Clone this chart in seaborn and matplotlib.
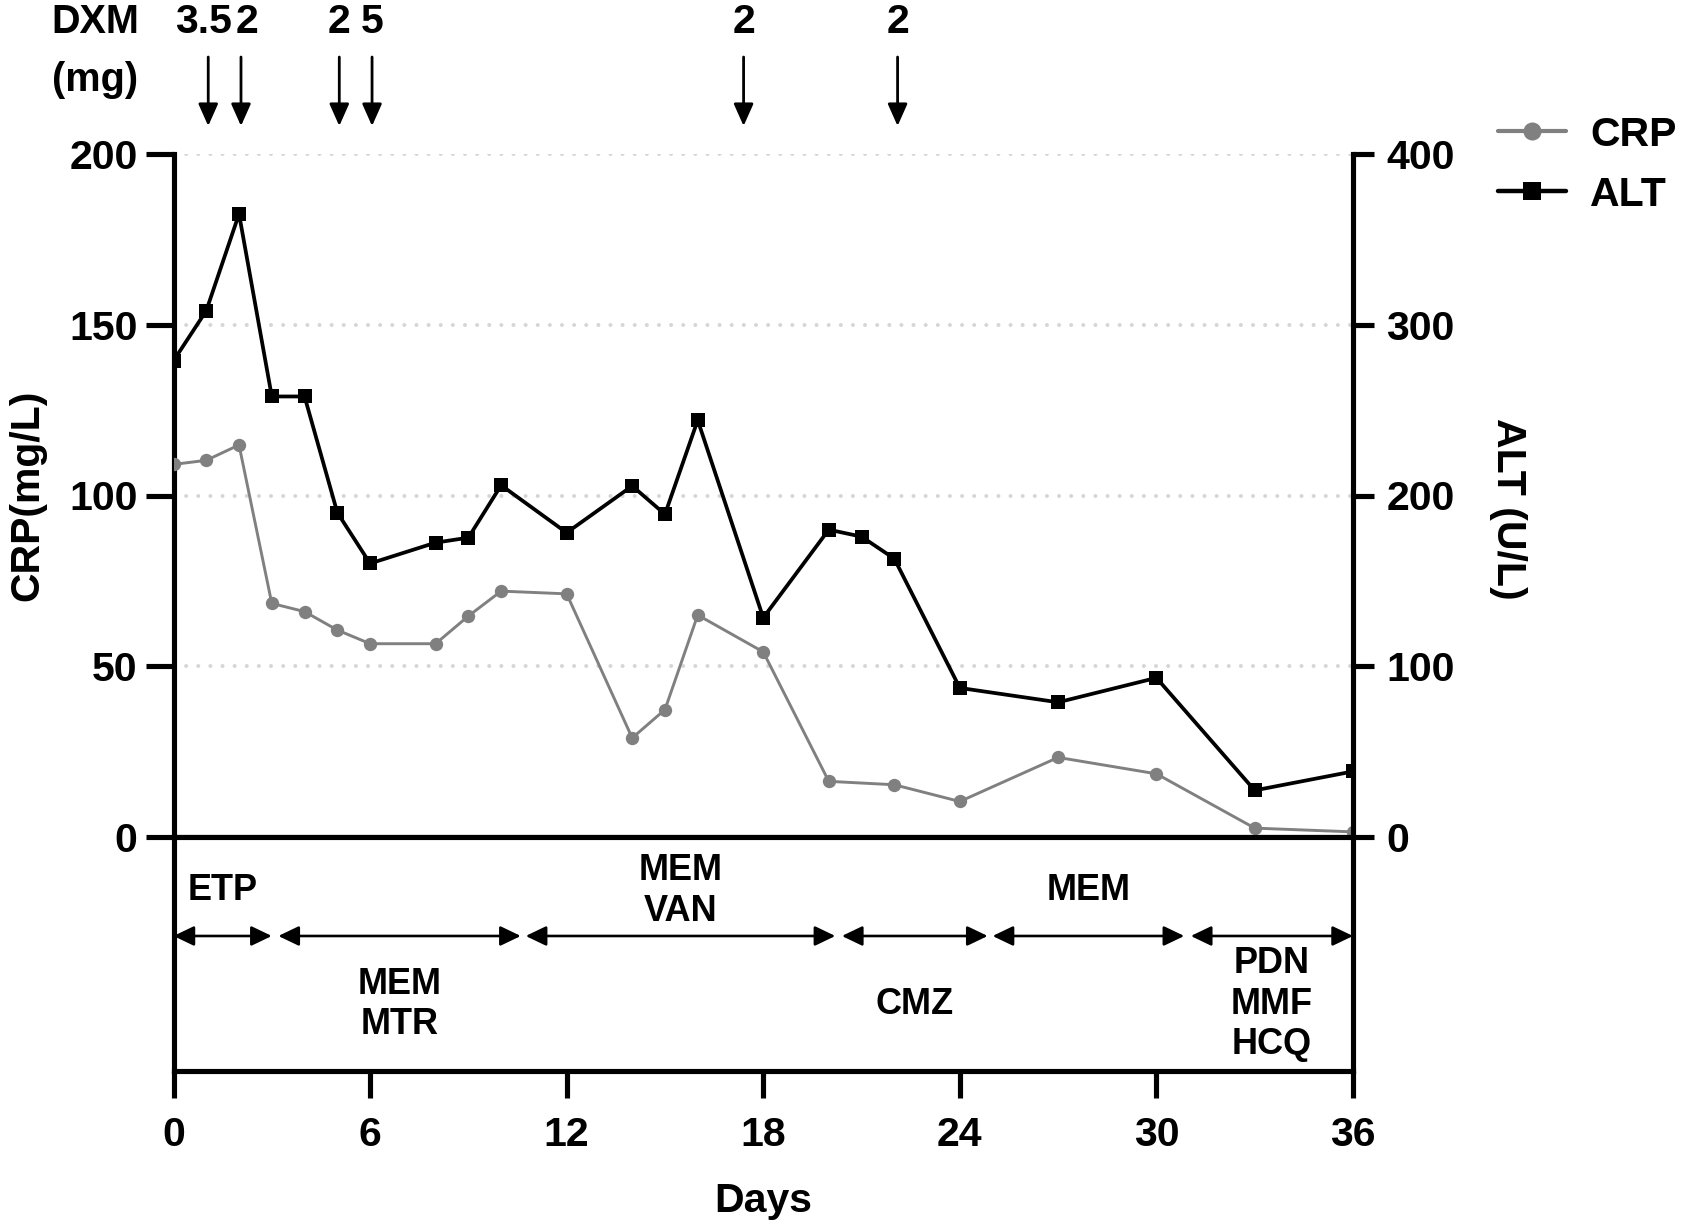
import matplotlib
matplotlib.use("Agg")
import matplotlib.pyplot as plt
from matplotlib.lines import Line2D
import seaborn as sns
import pandas as pd

# CRP (mg/L) and ALT (U/L) by hospital day
crp_days = [0, 1, 2, 3, 4, 5, 6, 8, 9, 10, 12, 14, 15, 16, 18, 20, 22, 24, 27, 30, 33, 36]
crp_vals = [109.1, 110.3, 114.8, 68.4, 66.0, 60.6, 56.6, 56.6, 64.7, 72.0, 71.2, 29.0,
            37.3, 65.0, 54.2, 16.3, 15.3, 10.4, 23.3, 18.5, 2.6, 1.5]
alt_days = [0, 1, 2, 3, 4, 5, 6, 8, 9, 10, 12, 14, 15, 16, 18, 20, 21, 22, 24, 27, 30, 33, 36]
alt_vals = [278.9, 308.2, 364.9, 258.0, 258.0, 190.0, 160.2, 172.4, 175.3, 206.0, 178.2,
            205.6, 189.0, 244.1, 128.4, 180.0, 175.9, 163.0, 87.3, 78.9, 93.2, 27.3, 38.4]

# dexamethasone doses
dxm_days = [1.06, 2.06, 5.06, 6.06, 17.4, 22.1]
dxm_doses = ["3.5", "2", "2", "5", "2", "2"]

# treatment periods
tx_labels = ["ETP", "MEM\nMTR", "MEM\nVAN", "CMZ", "MEM", "PDN\nMMF\nHCQ"]
tx_start = [0, 3.2, 10.75, 20.4, 25.0, 31.05]
tx_end = [3.0, 10.6, 20.2, 24.85, 30.85, 36]

crp = pd.DataFrame({"day": crp_days, "CRP": crp_vals})
alt = pd.DataFrame({"day": alt_days, "ALT": alt_vals})

sns.set_theme(style="white")
plt.rcParams["font.family"] = ["Liberation Sans", "DejaVu Sans"]
plt.rcParams["font.weight"] = "bold"
plt.rcParams["axes.labelweight"] = "bold"
for k in ["text.color", "axes.labelcolor", "xtick.color", "ytick.color",
          "xtick.labelcolor", "ytick.labelcolor", "axes.edgecolor"]:
    plt.rcParams[k] = "black"

FS = 29.5
SW = 3.7
W_PX, H_PX = 1684, 1232

fig = plt.figure(figsize=(16.84, 12.32), dpi=100)
left = 173.5 / W_PX
width = (1353 - 173.5) / W_PX
ax = fig.add_axes([left, 1 - 837 / H_PX, width, (837 - 154) / H_PX])
axb = fig.add_axes([left, 1 - 1071 / H_PX, width, (1071 - 837) / H_PX])
ax2 = ax.twinx()

sns.lineplot(data=crp, x="day", y="CRP", ax=ax, color="#808080", linewidth=2.1,
             marker="o", markersize=9.6, markeredgewidth=0, zorder=3)
sns.lineplot(data=alt, x="day", y="ALT", ax=ax2, color="black", linewidth=2.7,
             marker="s", markersize=10.2, markeredgewidth=0, zorder=3)

# top panel: CRP left axis
ax.set_xlim(0, 36)
ax.set_ylim(0, 200)
ax.set_yticks([0, 50, 100, 150, 200])
ax.tick_params(axis="y", length=20, width=SW, pad=6, labelsize=FS, left=True,
               color="black", labelcolor="black")
ax.tick_params(axis="x", bottom=False, labelbottom=False)
ax.set_xlabel("")
ax.yaxis.grid(True, color="#d6d6d6", linewidth=2.9, linestyle=(0, (0.01, 3)),
              dash_capstyle="round")
ax.xaxis.grid(False)
for s in ["top", "right"]:
    ax.spines[s].set_visible(False)
for s in ["left", "bottom"]:
    ax.spines[s].set_linewidth(SW)
    ax.spines[s].set_color("black")
ax.set_ylabel("CRP(mg/L)", fontsize=FS, color="black")
ax.yaxis.set_label_coords(-0.124, 0.5)
ax.yaxis.label.set_va("center")

# ALT right axis
ax2.set_xlim(0, 36)
ax2.set_ylim(0, 400)
ax2.set_yticks([0, 100, 200, 300, 400])
ax2.tick_params(axis="y", length=15, width=SW, pad=9, labelsize=FS, right=True,
                color="black", labelcolor="black")
ax2.set_xlabel("")
for s in ["top", "left", "bottom"]:
    ax2.spines[s].set_visible(False)
ax2.spines["right"].set_linewidth(SW)
ax2.spines["right"].set_color("black")
ax2.grid(False)
ax2.set_ylabel("ALT (U/L)", fontsize=FS, rotation=270, color="black")
ax2.yaxis.set_label_coords(1.131, 0.48)
ax2.yaxis.label.set_va("center")

# bottom panel: treatments
axb.set_xlim(0, 36)
axb.set_ylim(0, 1)
axb.set_xticks(range(0, 37, 6))
axb.set_yticks([])
axb.tick_params(axis="x", length=19.5, width=SW, pad=13, labelsize=FS, bottom=True,
                color="black", labelcolor="black")
for s in axb.spines.values():
    s.set_linewidth(SW)
    s.set_color("black")
axb.set_xlabel("Days", fontsize=FS, color="black")
axb.xaxis.set_label_coords(0.5, -0.556)
axb.xaxis.label.set_va("center")

for i, (lab, a, b) in enumerate(zip(tx_labels, tx_start, tx_end)):
    axb.annotate("", xy=(b, 0.577), xytext=(a, 0.577),
                 arrowprops=dict(arrowstyle="<|-|>,head_length=1.25,head_width=0.6",
                                 mutation_scale=10, lw=1.9, color="black",
                                 shrinkA=0, shrinkB=0))
    ty = 0.77 if i % 2 == 0 else 0.285
    axb.text((a + b) / 2, ty, lab, ha="center", va="center", fontsize=26,
             fontweight="bold", linespacing=1.2, color="black")

# DXM arrows above the plot
xform = ax.get_xaxis_transform()
nudge = [-0.13, 0.18, 0, 0, 0, 0]
for d, dose, n in zip(dxm_days, dxm_doses, nudge):
    ax.annotate("", xy=(d, 1.041), xytext=(d, 1.142), xycoords=xform, textcoords=xform,
                annotation_clip=False,
                arrowprops=dict(arrowstyle="-|>,head_length=1.35,head_width=0.6",
                                mutation_scale=10, lw=2, color="black",
                                shrinkA=0, shrinkB=0))
    ax.text(d + n, 1.193, dose, transform=xform, ha="center", va="center",
            fontsize=FS, fontweight="bold", color="black", clip_on=False)
ax.text(-0.0666, 1.193, "DXM", transform=ax.transAxes, ha="center", va="center",
        fontsize=28.5, fontweight="bold", color="black", clip_on=False)
ax.text(-0.0666, 1.108, "(mg)", transform=ax.transAxes, ha="center", va="center",
        fontsize=28.5, fontweight="bold", color="black", clip_on=False)

# legend
handles = [
    Line2D([], [], color="#808080", lw=3, marker="o", markersize=13, markeredgewidth=0),
    Line2D([], [], color="black", lw=3.2, marker="s", markersize=13, markeredgewidth=0),
]
leg = fig.legend(handles, ["CRP", "ALT"], loc="upper left",
                 bbox_to_anchor=(1498 / W_PX, 1 - 115.5 / H_PX),
                 frameon=False, borderpad=0, borderaxespad=0, handlelength=1.66,
                 handletextpad=0.59, labelspacing=0.54, prop={"weight": "bold", "size": FS})
for t in leg.get_texts():
    t.set_color("black")

fig.savefig("out.png", dpi=100)
plt.close(fig)
